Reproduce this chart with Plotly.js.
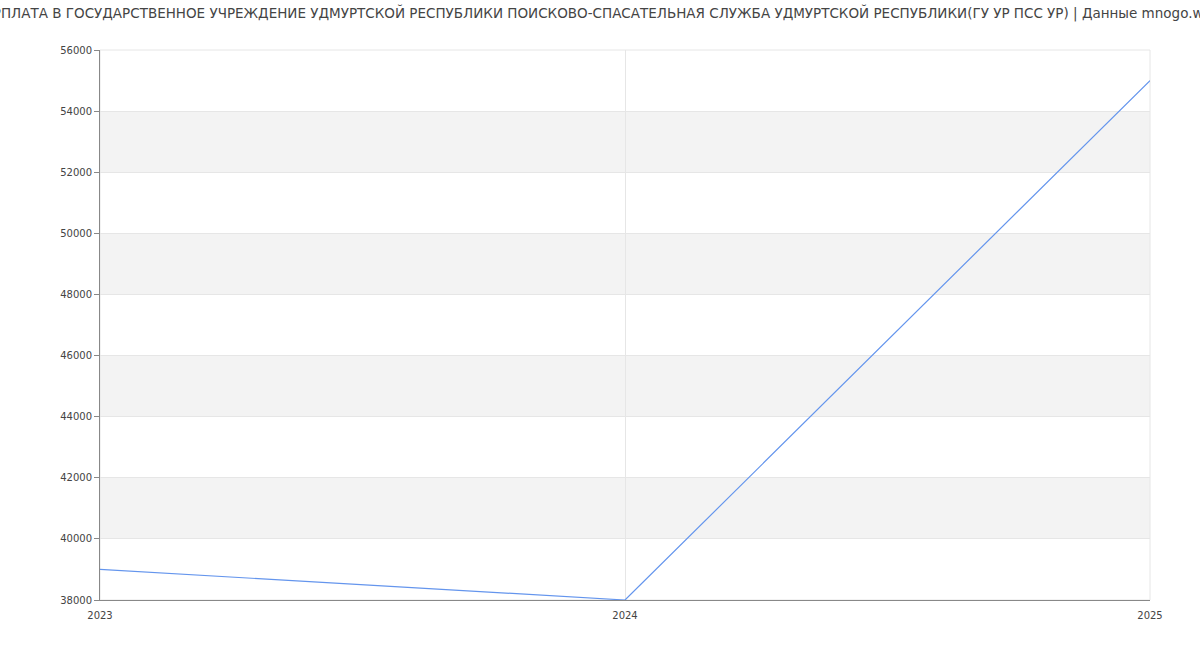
<!DOCTYPE html>
<html>
<head>
<meta charset="utf-8">
<script src="https://cdn.plot.ly/plotly-3.0.1.min.js"></script>
<style>
  html, body { margin: 0; padding: 0; background: #fff; }
  #chart { width: 1200px; height: 650px; }
</style>
</head>
<body>
<div id="chart"></div>
<script>
// Chart data
var years = [2023, 2024, 2025];
var salary = [39000, 38000, 55000];
var yTicks = [38000, 40000, 42000, 44000, 46000, 48000, 50000, 52000, 54000, 56000];
var chartTitle = 'ЗАРПЛАТА В ГОСУДАРСТВЕННОЕ УЧРЕЖДЕНИЕ УДМУРТСКОЙ РЕСПУБЛИКИ ПОИСКОВО-СПАСАТЕЛЬНАЯ СЛУЖБА УДМУРТСКОЙ РЕСПУБЛИКИ(ГУ УР ПСС УР) | Данные mnogo.work';

// Alternating grey bands between every other pair of ticks
var shapes = [];
for (var i = 1; i < yTicks.length - 1; i += 2) {
    shapes.push({
        type: 'rect',
        xref: 'paper', yref: 'y',
        x0: 0, x1: 1,
        y0: yTicks[i], y1: yTicks[i + 1],
        fillcolor: '#f3f3f3',
        line: { width: 0 },
        layer: 'below'
    });
}
// light frame on top and right of the plot area
shapes.push({
    type: 'rect',
    xref: 'paper', yref: 'paper',
    x0: 0, x1: 1, y0: 0, y1: 1,
    line: { color: '#e6e6e6', width: 1 },
    layer: 'below'
});

var trace = {
    x: years,
    y: salary,
    type: 'scatter',
    mode: 'lines',
    line: { color: '#6495ed', width: 1.2 },
    hoverinfo: 'x+y'
};

var layout = {
    width: 1200,
    height: 650,
    paper_bgcolor: '#ffffff',
    plot_bgcolor: '#ffffff',
    font: { family: 'DejaVu Sans, sans-serif', size: 11, color: '#444' },
    title: {
        text: chartTitle,
        x: 0.5,
        xanchor: 'center',
        y: 0.979,
        yanchor: 'middle',
        font: { family: 'DejaVu Sans, sans-serif', size: 13.5, color: '#444' }
    },
    margin: { l: 100, r: 50, t: 50, b: 50 },
    showlegend: false,
    shapes: shapes,
    xaxis: {
        range: [2023, 2025],
        tickvals: years,
        ticktext: years.map(String),
        showgrid: true,
        gridcolor: '#e6e6e6',
        gridwidth: 1,
        zeroline: false,
        showline: true,
        linecolor: '#888',
        linewidth: 1,
        ticks: '',
        ticklabelstandoff: 6,
        tickfont: { size: 10, color: '#444' }
    },
    yaxis: {
        range: [38000, 56000],
        tickvals: yTicks,
        ticktext: yTicks.map(String),
        showgrid: true,
        gridcolor: '#e6e6e6',
        gridwidth: 1,
        zeroline: false,
        showline: true,
        linecolor: '#888',
        linewidth: 1,
        ticks: 'outside',
        ticklen: 5,
        tickcolor: '#888',
        tickfont: { size: 10, color: '#444' }
    }
};

Plotly.newPlot('chart', [trace], layout, { displayModeBar: false });
</script>
</body>
</html>
